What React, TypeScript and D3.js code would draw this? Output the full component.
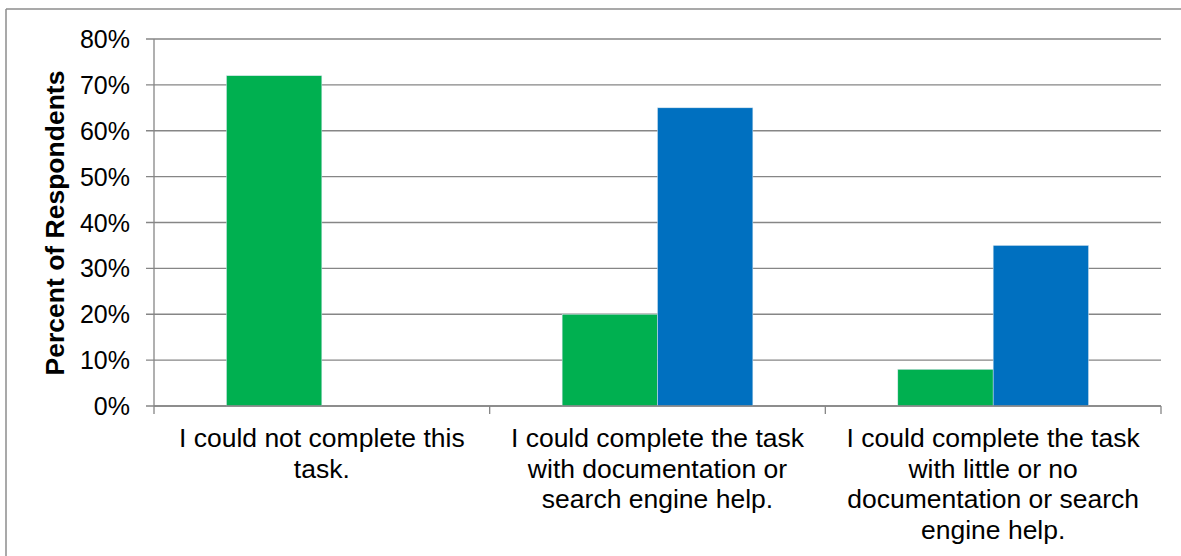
import React from "react";
import * as d3 from "d3";

const categories: string[][] = [
  ["I could not complete this", "task."],
  ["I could complete the task", "with documentation or", "search engine help."],
  ["I could complete the task", "with little or no", "documentation or search", "engine help."],
];
const seriesNames = ["Series A", "Series B"];
const greenValues = [72, 20, 8];
const blueValues = [0, 65, 35];
const yTicks = [0, 10, 20, 30, 40, 50, 60, 70, 80];
const colors = ["#00B050", "#0070C0"];

const W = 1181;
const H = 556;
const left = 154;
const right = 1161;
const top = 39;
const bottom = 406;

export default function App() {
  const x = d3.scaleBand<number>().domain([0, 1, 2]).range([left, right]).paddingInner(0).paddingOuter(0);
  const inner = d3.scaleBand<number>().domain([0, 1]).range([0, x.bandwidth()]).paddingInner(0).paddingOuter(0.76);
  const y = d3.scaleLinear().domain([0, 80]).range([bottom, top]);
  const font = "'Liberation Sans', Arial, sans-serif";
  const series = [greenValues, blueValues];
  const catTicks = [0, 1, 2].map((i) => x(i)!).concat([right]);

  return (
    <svg width={W} height={H} style={{ position: "absolute", left: 0, top: 0, background: "#fff" }} fontFamily={font}>
      <rect x={0} y={0} width={W} height={H} fill="#fff" />
      {/* outer frame */}
      <line x1={6} y1={9} x2={W} y2={9} stroke="#8c8c8c" strokeWidth={1.5} />
      <line x1={6} y1={9} x2={6} y2={H} stroke="#8c8c8c" strokeWidth={1.5} />
      {/* gridlines */}
      {yTicks.map((t) => (
        <g key={t}>
          <line x1={left - 8} x2={right} y1={y(t)} y2={y(t)} stroke="#868686" strokeWidth={1.3} />
          <text x={130} y={y(t)} dy="0.36em" textAnchor="end" fontSize={25} fill="#000">
            {t}%
          </text>
        </g>
      ))}
      {/* bars */}
      {series.map((vals, s) =>
        vals.map((v, i) =>
          v > 0 ? (
            <rect
              key={`${s}-${i}`}
              x={x(i)! + inner(s)!}
              y={y(v)}
              width={inner.bandwidth()}
              height={y(0) - y(v)}
              fill={colors[s]}
              stroke="#d9e6f0"
              strokeWidth={0.5}
            >
              <title>{seriesNames[s]}</title>
            </rect>
          ) : null
        )
      )}
      {/* axes */}
      <line x1={left} x2={left} y1={top} y2={bottom} stroke="#868686" strokeWidth={1.3} />
      <line x1={left} x2={right} y1={bottom} y2={bottom} stroke="#868686" strokeWidth={1.3} />
      {catTicks.map((cx, i) => (
        <line key={i} x1={cx} x2={cx} y1={bottom} y2={bottom + 8} stroke="#868686" strokeWidth={1.3} />
      ))}
      {/* category labels */}
      {categories.map((lines, i) => (
        <text key={i} textAnchor="middle" fontSize={26.5} fill="#000">
          {lines.map((ln, j) => (
            <tspan key={j} x={x(i)! + x.bandwidth() / 2} y={447 + j * 30.5}>
              {ln}
            </tspan>
          ))}
        </text>
      ))}
      {/* y title */}
      <text
        transform={`translate(64, ${(top + bottom) / 2 + 0.5}) rotate(-90)`}
        textAnchor="middle"
        fontSize={26.5}
        fontWeight="bold"
        fill="#000"
      >
        Percent of Respondents
      </text>
    </svg>
  );
}
